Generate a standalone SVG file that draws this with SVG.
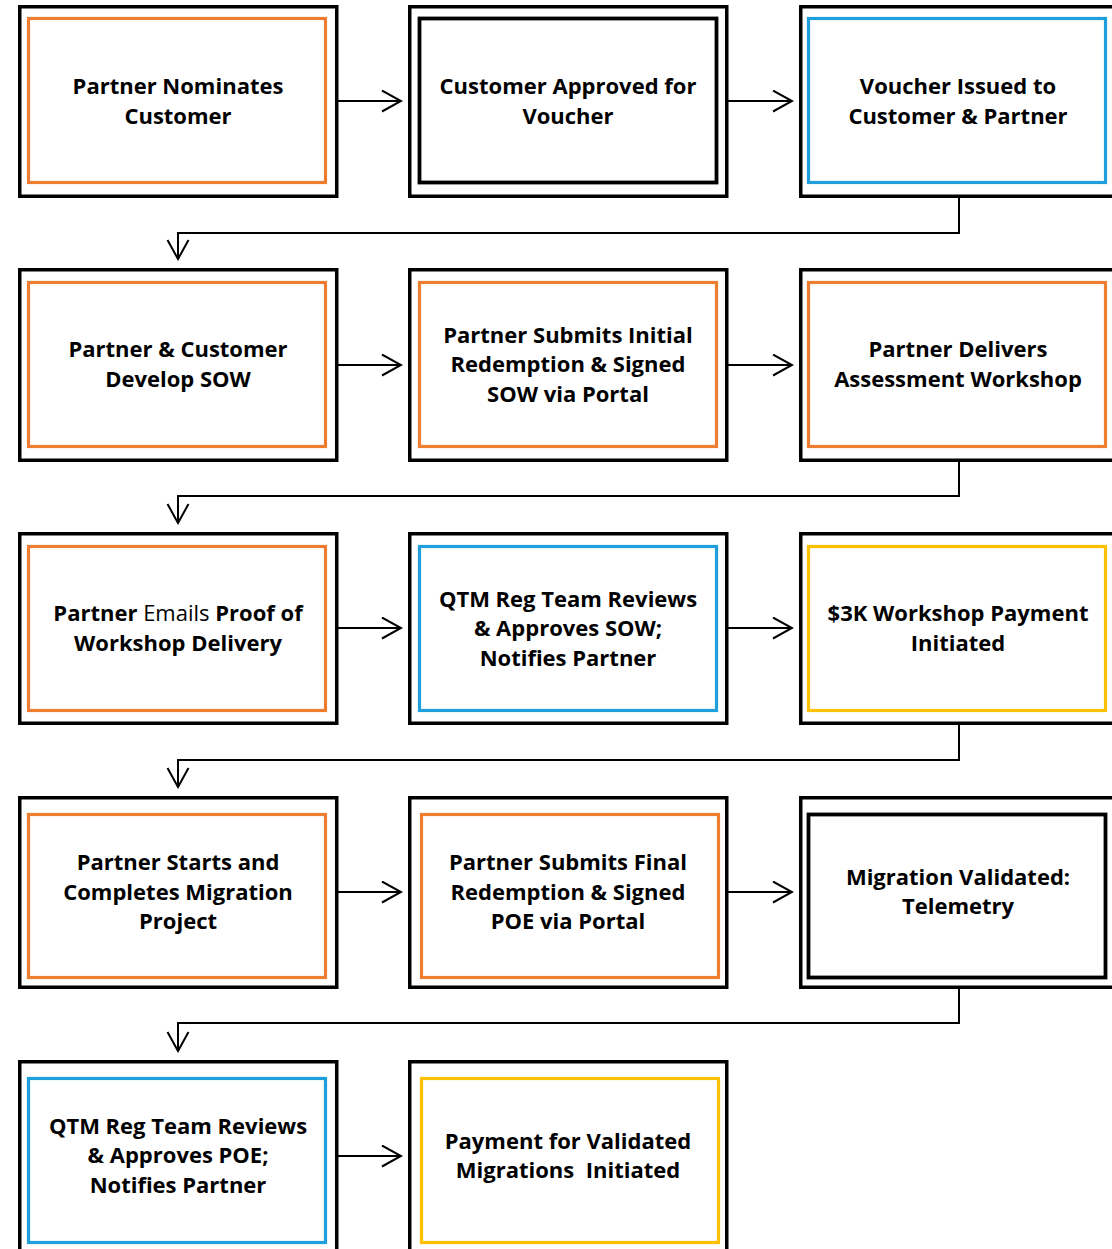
<svg xmlns="http://www.w3.org/2000/svg" width="1112" height="1249" viewBox="0 0 1112 1249">
<style>
.outer{fill:#fff;stroke:#000;stroke-width:3.5}
.inner{fill:none;stroke-width:3.2}
.or{stroke:#ED7D31}.bl{stroke:#1E9FDB}.ye{stroke:#FFC000}.bk{stroke:#000;stroke-width:3.8}
text{font-family:"Open Sans","Liberation Sans",sans-serif;font-weight:bold;font-size:22px;fill:#000;text-anchor:middle}
.n{font-weight:normal}
.c{fill:none;stroke:#000;stroke-width:2}
</style>
<defs>
<marker id="ah" markerUnits="userSpaceOnUse" viewBox="-1 -1 22 24" markerWidth="22" markerHeight="24" refX="19" refY="10.5" orient="auto">
<path d="M0,0 L19,10.5 L0,21" fill="none" stroke="#000" stroke-width="2"/>
</marker>
</defs>
<g id="connectors">
<path class="c" d="M338,101 H401" marker-end="url(#ah)"/>
<path class="c" d="M728,101 H792" marker-end="url(#ah)"/>
<path class="c" d="M959,198 V233 H178 V259" marker-end="url(#ah)"/>
<path class="c" d="M338,365 H401" marker-end="url(#ah)"/>
<path class="c" d="M728,365 H792" marker-end="url(#ah)"/>
<path class="c" d="M959,462 V496 H178 V523" marker-end="url(#ah)"/>
<path class="c" d="M338,628 H401" marker-end="url(#ah)"/>
<path class="c" d="M728,628 H792" marker-end="url(#ah)"/>
<path class="c" d="M959,725 V760 H178 V787" marker-end="url(#ah)"/>
<path class="c" d="M338,892 H401" marker-end="url(#ah)"/>
<path class="c" d="M728,892 H792" marker-end="url(#ah)"/>
<path class="c" d="M959,989 V1023 H178 V1051" marker-end="url(#ah)"/>
<path class="c" d="M338,1156 H401" marker-end="url(#ah)"/>
</g>
<g id="n1">
<rect class="outer" x="19.75" y="6.75" width="317" height="189.5"/>
<rect class="inner or" x="28.5" y="18.5" width="297" height="164"/>
<text x="178" y="94">Partner Nominates</text>
<text x="178" y="123.5">Customer</text>
</g>
<g id="n2">
<rect class="outer" x="409.75" y="6.75" width="317" height="189.5"/>
<rect class="inner bk" x="419.5" y="18.5" width="297" height="164"/>
<text x="568" y="94">Customer Approved for</text>
<text x="568" y="123.5">Voucher</text>
</g>
<g id="n3">
<rect class="outer" x="800.75" y="6.75" width="317" height="189.5"/>
<rect class="inner bl" x="808.5" y="18.5" width="297" height="164"/>
<text x="958" y="94">Voucher Issued to</text>
<text x="958" y="123.5">Customer &amp; Partner</text>
</g>
<g id="n4">
<rect class="outer" x="19.75" y="269.75" width="317" height="190.5"/>
<rect class="inner or" x="28.5" y="282.5" width="297" height="164"/>
<text x="178" y="357">Partner &amp; Customer</text>
<text x="178" y="386.5">Develop SOW</text>
</g>
<g id="n5">
<rect class="outer" x="409.75" y="269.75" width="317" height="190.5"/>
<rect class="inner or" x="419.5" y="282.5" width="297" height="164"/>
<text x="568" y="342.5">Partner Submits Initial</text>
<text x="568" y="372">Redemption &amp; Signed</text>
<text x="568" y="401.5">SOW via Portal</text>
</g>
<g id="n6">
<rect class="outer" x="800.75" y="269.75" width="317" height="190.5"/>
<rect class="inner or" x="808.5" y="282.5" width="297" height="164"/>
<text x="958" y="357">Partner Delivers</text>
<text x="958" y="386.5">Assessment Workshop</text>
</g>
<g id="n7">
<rect class="outer" x="19.75" y="533.75" width="317" height="189.5"/>
<rect class="inner or" x="28.5" y="546.5" width="297" height="164"/>
<text x="178" y="621">Partner <tspan class="n">Emails</tspan> Proof of</text>
<text x="178" y="650.5">Workshop Delivery</text>
</g>
<g id="n8">
<rect class="outer" x="409.75" y="533.75" width="317" height="189.5"/>
<rect class="inner bl" x="419.5" y="546.5" width="297" height="164"/>
<text x="568" y="606.5">QTM Reg Team Reviews</text>
<text x="568" y="636">&amp; Approves SOW;</text>
<text x="568" y="665.5">Notifies Partner</text>
</g>
<g id="n9">
<rect class="outer" x="800.75" y="533.75" width="317" height="189.5"/>
<rect class="inner ye" x="808.5" y="546.5" width="297" height="164"/>
<text x="958" y="621">$3K Workshop Payment</text>
<text x="958" y="650.5">Initiated</text>
</g>
<g id="n10">
<rect class="outer" x="19.75" y="797.75" width="317" height="189.5"/>
<rect class="inner or" x="28.5" y="814.5" width="297" height="163"/>
<text x="178" y="870">Partner Starts and</text>
<text x="178" y="899.5">Completes Migration</text>
<text x="178" y="929">Project</text>
</g>
<g id="n11">
<rect class="outer" x="409.75" y="797.75" width="317" height="189.5"/>
<rect class="inner or" x="421.5" y="814.5" width="297" height="163"/>
<text x="568" y="870">Partner Submits Final</text>
<text x="568" y="899.5">Redemption &amp; Signed</text>
<text x="568" y="929">POE via Portal</text>
</g>
<g id="n12">
<rect class="outer" x="800.75" y="797.75" width="317" height="189.5"/>
<rect class="inner bk" x="808.5" y="814.5" width="297" height="163"/>
<text x="958" y="884.5">Migration Validated:</text>
<text x="958" y="914">Telemetry</text>
</g>
<g id="n13">
<rect class="outer" x="19.75" y="1061.75" width="317" height="190"/>
<rect class="inner bl" x="28.5" y="1078.5" width="297" height="164"/>
<text x="178" y="1133.5">QTM Reg Team Reviews</text>
<text x="178" y="1163">&amp; Approves POE;</text>
<text x="178" y="1192.5">Notifies Partner</text>
</g>
<g id="n14">
<rect class="outer" x="409.75" y="1061.75" width="317" height="190"/>
<rect class="inner ye" x="421.5" y="1078.5" width="297" height="164"/>
<text x="568" y="1148.5" xml:space="preserve">Payment for Validated</text>
<text x="568" y="1178" xml:space="preserve">Migrations  Initiated</text>
</g>
</svg>
